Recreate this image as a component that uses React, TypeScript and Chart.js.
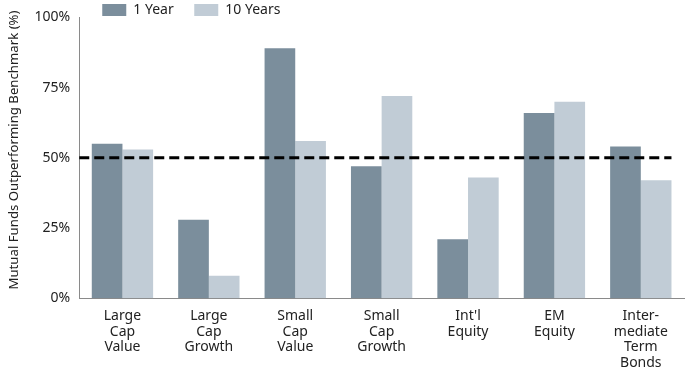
import React, { useEffect, useRef } from "react";
import { Chart, registerables } from "chart.js";

Chart.register(...registerables);

const categories: string[][] = [
  ["Large", "Cap", "Value"],
  ["Large", "Cap", "Growth"],
  ["Small", "Cap", "Value"],
  ["Small", "Cap", "Growth"],
  ["Int'l", "Equity"],
  ["EM", "Equity"],
  ["Inter-", "mediate", "Term", "Bonds"],
];
const oneYear: number[] = [55, 28, 89, 47, 21, 66, 54];
const tenYears: number[] = [53, 8, 56, 72, 43, 70, 42];
const benchmarkLine = 50;
const yTicks: number[] = [0, 25, 50, 75, 100];
const yTitle = "Mutual Funds Outperforming Benchmark (%)";

const FONT = "'Noto Sans', 'Open Sans', sans-serif";
const TEXT = "#222";

const dashedLinePlugin = {
  id: "dashedLine",
  afterDatasetsDraw(chart: any) {
    const { ctx, chartArea, scales } = chart;
    const y = scales.y.getPixelForValue(benchmarkLine);
    const meta = chart.getDatasetMeta(chart.data.datasets.length - 1);
    const lastBar = meta.data[meta.data.length - 1];
    const right = lastBar ? lastBar.x + lastBar.width / 2 : chartArea.right;
    ctx.save();
    ctx.strokeStyle = "#000";
    ctx.lineWidth = 3;
    ctx.setLineDash([10, 5]);
    ctx.beginPath();
    ctx.moveTo(chartArea.left, y);
    ctx.lineTo(right, y);
    ctx.stroke();
    ctx.restore();
  },
};

const legendPlugin = {
  id: "customLegend",
  afterDraw(chart: any) {
    const { ctx, chartArea } = chart;
    const datasets = chart.data.datasets;
    let x = chartArea.left + 23;
    const top = 4;
    ctx.save();
    ctx.font = `14px ${FONT}`;
    ctx.textBaseline = "middle";
    datasets.forEach((ds: any) => {
      ctx.fillStyle = ds.backgroundColor;
      ctx.fillRect(x, top, 24, 12);
      ctx.fillStyle = TEXT;
      ctx.fillText(ds.label, x + 31, top + 6.5);
      x += 92;
    });
    // y-axis title
    ctx.translate(14, 150);
    ctx.rotate(-Math.PI / 2);
    ctx.textAlign = "center";
    ctx.font = `13.2px ${FONT}`;
    ctx.fillText(yTitle, 0, 0);
    ctx.restore();
  },
};

export default function App() {
  const ref = useRef<HTMLCanvasElement>(null);
  useEffect(() => {
    document.body.style.margin = "0";
    const chart = new Chart(ref.current!, {
      type: "bar",
      data: {
        labels: categories,
        datasets: [
          { label: "1 Year", data: oneYear, backgroundColor: "#7b8e9c", categoryPercentage: 0.71, barPercentage: 1 },
          { label: "10 Years", data: tenYears, backgroundColor: "#c1ccd6", categoryPercentage: 0.71, barPercentage: 1 },
        ],
      },
      options: {
        animation: false,
        responsive: false,
        layout: { padding: { top: 5, right: 7, left: 25.6, bottom: -5 } },
        plugins: {
          tooltip: { enabled: false },
          legend: { display: false },
        },
        scales: {
          x: {
            grid: { display: false, drawTicks: false },
            border: { display: true, color: "#8a8a8a", width: 1 },
            ticks: { color: TEXT, font: { family: FONT, size: 14, lineHeight: 1.12 }, maxRotation: 0, padding: 10 },
          },
          y: {
            min: 0,
            max: 100,
            afterBuildTicks(scale: any) {
              scale.ticks = yTicks.map((v) => ({ value: v }));
            },
            grid: { display: false, drawTicks: false },
            border: { display: true, color: "#8a8a8a", width: 1 },
            ticks: { color: TEXT, font: { family: FONT, size: 14 }, padding: 9, callback: (v: any) => v + "%" },
          },
        },
      },
      plugins: [dashedLinePlugin, legendPlugin],
    });
    return () => chart.destroy();
  }, []);
  return <canvas ref={ref} width={691} height={376} style={{ display: "block" }} />;
}
